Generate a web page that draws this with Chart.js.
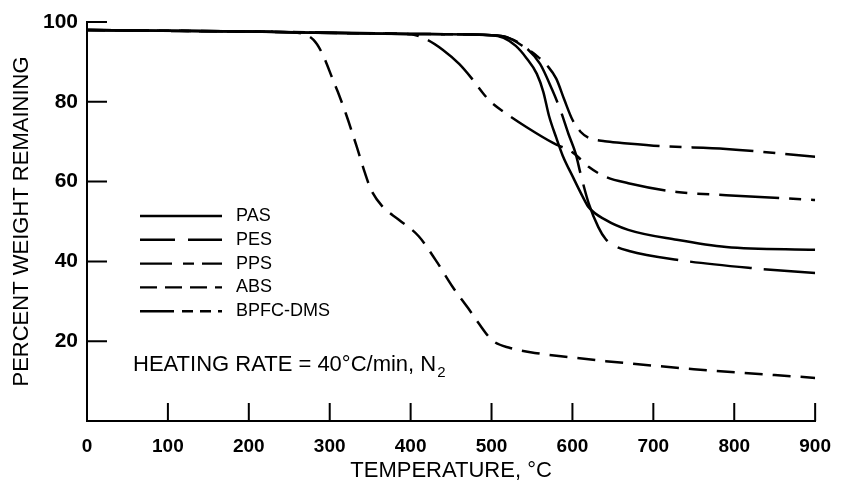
<!DOCTYPE html>
<html>
<head>
<meta charset="utf-8">
<script src="https://cdn.jsdelivr.net/npm/chart.js@4.4.0/dist/chart.umd.min.js"></script>
<style>
    html, body { margin: 0; padding: 0; background: #fff; }
</style>
</head>
<body>
<canvas id="tga" width="845" height="487"></canvas>
<script>
// TGA curves: temperature (°C) and percent weight remaining
const pasTemp   = [0, 200, 400, 500, 515, 530, 543, 556, 564, 571, 580, 588, 601, 612, 620, 641, 669, 729, 790, 900];
const pasWeight = [98, 97.6, 97.0, 96.7, 96.0, 94.0, 91.0, 87.0, 82.5, 76.5, 71.0, 66.5, 61.0, 56.5, 53.6, 50.4, 47.9, 45.4, 43.6, 42.9];

const pesTemp   = [0, 200, 400, 500, 520, 543, 560, 575, 585, 595, 604, 610, 620, 632, 641, 650, 670, 729, 823, 900];
const pesWeight = [98, 97.6, 97.0, 96.7, 96.1, 93.5, 89.5, 83.0, 78.0, 72.0, 67.0, 62.0, 54.6, 48.6, 45.6, 44.1, 42.6, 40.4, 38.3, 37.1];

const ppsTemp   = [0, 200, 400, 500, 519, 540, 556, 570, 580, 590, 600, 610, 620, 640, 661, 710, 790, 900];
const ppsWeight = [98, 97.6, 97.0, 96.7, 96.2, 93.8, 91.5, 88.8, 85.8, 80.5, 75.5, 72.5, 71.0, 70.1, 69.7, 68.9, 68.2, 66.2];

const absTemp   = [0, 200, 260, 280, 291, 304, 310, 320, 333, 343, 351, 365, 385, 410, 432, 452, 471, 483, 501, 523, 556, 596, 641, 750, 900];
const absWeight = [98, 97.6, 97.3, 95.5, 92.0, 85.5, 82.5, 77.0, 69.0, 62.5, 58.0, 53.8, 50.5, 46.3, 40.0, 33.6, 28.3, 24.8, 20.2, 18.3, 17.0, 16.0, 15.0, 13.0, 10.8];

const bpfcTemp   = [0, 200, 380, 401, 420, 440, 460, 475, 490, 500, 515, 543, 576, 601, 620, 641, 669, 729, 790, 900];
const bpfcWeight = [98, 97.6, 97.1, 96.9, 95.6, 93.0, 89.5, 86.0, 82.0, 79.8, 77.5, 73.7, 69.7, 67.2, 63.7, 61.2, 59.6, 57.4, 56.6, 55.4];

const seriesLabels = ['PAS', 'PES', 'PPS', 'ABS', 'BPFC-DMS'];
const xTicks = [0, 100, 200, 300, 400, 500, 600, 700, 800, 900];
const yTicks = [0, 20, 40, 60, 80, 100];

// line styles: dash on the plot, dash on the key
const plotDash = [[], [62, 12], [62, 10, 12, 10], [18, 10], [60, 10, 12, 10, 12, 10]];
const keyDash  = [[], [35, 13], [32, 11, 11, 8], [17, 8], [34, 8, 11, 7, 11, 7]];

const FONT = "'Liberation Sans', Arial, Helvetica, sans-serif";
Chart.defaults.font.family = FONT;
Chart.defaults.color = '#000';

function toPoints(temps, weights) {
    return temps.map((t, i) => ({ x: t, y: weights[i] }));
}

const curveData = [
    toPoints(pasTemp, pasWeight),
    toPoints(pesTemp, pesWeight),
    toPoints(ppsTemp, ppsWeight),
    toPoints(absTemp, absWeight),
    toPoints(bpfcTemp, bpfcWeight)
];

// tick marks drawn inward, like the original plot
const inwardTicks = {
    id: 'inwardTicks',
    afterDatasetsDraw(chart) {
        const { ctx, chartArea, scales } = chart;
        ctx.save();
        ctx.strokeStyle = '#000';
        ctx.lineWidth = 2;
        ctx.beginPath();
        xTicks.forEach(v => {
            if (v === 0) return;
            const px = scales.x.getPixelForValue(v);
            ctx.moveTo(px, chartArea.bottom);
            ctx.lineTo(px, chartArea.bottom - 18);
        });
        yTicks.forEach(v => {
            if (v === 0) return;
            const py = scales.y.getPixelForValue(v);
            ctx.moveTo(chartArea.left, py);
            ctx.lineTo(chartArea.left + 20, py);
        });
        ctx.stroke();
        ctx.restore();
    }
};

// key and heating-rate note inside the plot
const keyAndNote = {
    id: 'keyAndNote',
    afterDraw(chart) {
        const ctx = chart.ctx;
        ctx.save();
        ctx.strokeStyle = '#000';
        ctx.fillStyle = '#000';
        ctx.lineWidth = 2.4;
        ctx.font = '18px ' + FONT;
        ctx.textBaseline = 'middle';
        chart.data.datasets.forEach((ds, i) => {
            const rowY = 216 + i * 23.8;
            ctx.setLineDash(keyDash[i]);
            ctx.beginPath();
            ctx.moveTo(140, rowY);
            ctx.lineTo(222, rowY);
            ctx.stroke();
            ctx.setLineDash([]);
            ctx.fillText(ds.label, 236, rowY);
        });

        ctx.font = '22px ' + FONT;
        const note = 'HEATING RATE = 40°C/min, N';
        ctx.fillText(note, 133, 365);
        const w = ctx.measureText(note).width;
        ctx.font = '15px ' + FONT;
        ctx.fillText('2', 133 + w + 1, 373);
        ctx.restore();
    }
};

new Chart(document.getElementById('tga'), {
    type: 'line',
    data: {
        datasets: curveData.map((pts, i) => ({
            label: seriesLabels[i],
            data: pts,
            borderColor: '#000',
            borderWidth: 2.5,
            borderDash: plotDash[i],
            pointRadius: 0,
            fill: false,
            cubicInterpolationMode: 'monotone'
        }))
    },
    options: {
        responsive: false,
        animation: false,
        layout: { padding: { top: 22, right: 22, left: 0, bottom: 0 } },
        plugins: {
            legend: { display: false },
            tooltip: { enabled: false }
        },
        scales: {
            x: {
                type: 'linear',
                min: 0,
                max: 900,
                afterBuildTicks: s => { s.ticks = xTicks.map(v => ({ value: v })); },
                afterFit: s => { s.height = 66; },
                grid: { display: false, drawTicks: false },
                border: { display: true, color: '#000', width: 2 },
                ticks: {
                    padding: 14,
                    color: '#000',
                    font: { size: 19, weight: 'bold' }
                },
                title: {
                    display: true,
                    text: 'TEMPERATURE, °C',
                    color: '#000',
                    font: { size: 22 },
                    padding: { top: 0, bottom: 3 }
                }
            },
            y: {
                min: 0,
                max: 100,
                afterBuildTicks: s => { s.ticks = yTicks.map(v => ({ value: v })); },
                afterFit: s => { s.width = 87; },
                grid: { display: false, drawTicks: false },
                border: { display: true, color: '#000', width: 2 },
                ticks: {
                    padding: 9,
                    color: '#000',
                    font: { size: 21, weight: 'bold' },
                    callback: v => (v === 0 ? '' : v)
                },
                title: {
                    display: true,
                    text: 'PERCENT WEIGHT REMAINING',
                    color: '#000',
                    font: { size: 22 },
                    padding: { top: 9, bottom: 0 }
                }
            }
        }
    },
    plugins: [inwardTicks, keyAndNote]
});
</script>
</body>
</html>
